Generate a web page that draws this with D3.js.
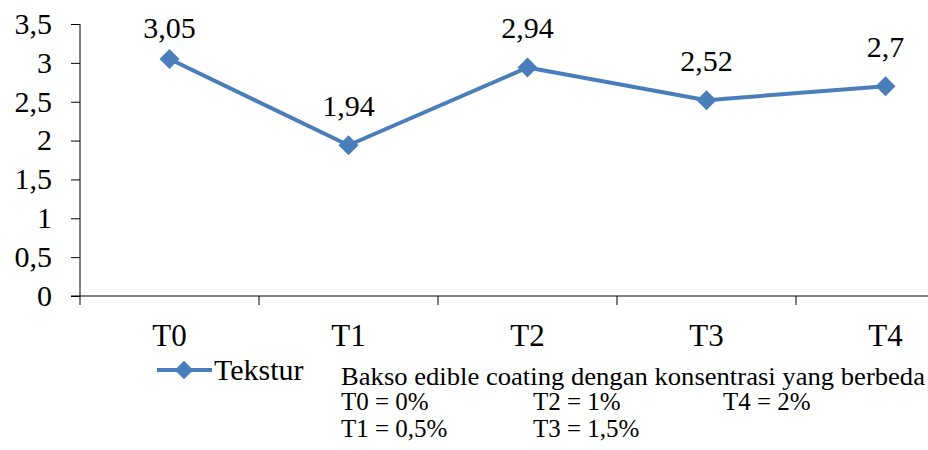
<!DOCTYPE html>
<html><head><meta charset="utf-8"><script src="https://cdn.jsdelivr.net/npm/d3@7"></script></head>
<body style="margin:0">
<svg id="chart" width="928" height="450"></svg>
<script>
// ---- data ----
const categories = ["T0", "T1", "T2", "T3", "T4"];
const tekstur = [3.05, 1.94, 2.94, 2.52, 2.7];
const valueLabels = ["3,05", "1,94", "2,94", "2,52", "2,7"];
const yTicks = [0, 0.5, 1, 1.5, 2, 2.5, 3, 3.5];
const yTickLabels = ["0", "0,5", "1", "1,5", "2", "2,5", "3", "3,5"];
const seriesName = "Tekstur";
const noteTitle = "Bakso edible coating dengan konsentrasi yang berbeda";
const noteRow1 = ["T0 = 0%", "T2 = 1%", "T4 = 2%"];
const noteRow2 = ["T1 = 0,5%", "T3 = 1,5%"];

// ---- layout ----
const svg = d3.select("#chart");
const color = "#4A7EBB";
const plotLeft = 80, bandW = 179, plotTop = 24, plotBottom = 296;

const x = d3.scaleBand().domain(categories).range([plotLeft, plotLeft + bandW * categories.length]);
const y = d3.scaleLinear().domain([0, 3.5]).range([plotBottom, plotTop]);
const cx = c => x(c) + x.bandwidth() / 2;

// y axis (ticks via d3 axis, labels as plain texts)
const yAxis = d3.axisLeft(y).tickValues(yTicks).tickSize(9).tickFormat("");
const gy = svg.append("g").attr("transform", `translate(${plotLeft},0)`).call(yAxis);
gy.select(".domain").remove();
gy.selectAll(".tick line").attr("stroke", "#000").attr("stroke-width", 1);
svg.selectAll("text.ylab").data(yTicks).join("text").attr("class", "ylab")
  .attr("x", plotLeft - 28).attr("y", d => y(d)).attr("dy", "0.33em")
  .attr("text-anchor", "end")
  .style("font-family", `"Liberation Serif"`).style("font-size", "30px")
  .text((d, i) => yTickLabels[i]);
svg.append("line")
  .attr("x1", plotLeft).attr("x2", plotLeft)
  .attr("y1", y(3.5)).attr("y2", plotBottom + 9)
  .attr("stroke", "#000").attr("stroke-width", 1);

// x axis
svg.append("line")
  .attr("x1", plotLeft - 9).attr("x2", 928)
  .attr("y1", plotBottom).attr("y2", plotBottom)
  .attr("stroke", "#000").attr("stroke-width", 1);
const boundaries = categories.map(c => x(c)).concat([x.range()[1]]);
svg.selectAll("line.xt").data(boundaries.slice(1)).join("line").attr("class", "xt")
  .attr("x1", d => d).attr("x2", d => d)
  .attr("y1", plotBottom).attr("y2", plotBottom + 9)
  .attr("stroke", "#000").attr("stroke-width", 1);
svg.selectAll("text.xlab").data(categories).join("text").attr("class", "xlab")
  .attr("x", d => cx(d)).attr("y", 346)
  .attr("text-anchor", "middle")
  .style("font-family", `"Liberation Serif"`).style("font-size", "31px")
  .text(d => d);

// line
const pts = categories.map((c, i) => ({ c, v: tekstur[i], label: valueLabels[i] }));
const line = d3.line().x(d => cx(d.c)).y(d => y(d.v));
svg.append("path")
  .datum(pts)
  .attr("d", line)
  .attr("fill", "none")
  .attr("stroke", color)
  .attr("stroke-width", 4)
  .attr("stroke-linejoin", "round");

const sym = d3.symbol().type(d3.symbolSquare).size(200);
svg.selectAll("path.mk").data(pts).join("path").attr("class", "mk")
  .attr("d", sym)
  .attr("transform", d => `translate(${cx(d.c)},${y(d.v)}) rotate(45)`)
  .attr("fill", color);

// data labels
svg.selectAll("text.vlab").data(pts).join("text").attr("class", "vlab")
  .attr("x", d => cx(d.c))
  .attr("y", d => Math.max(y(d.v) - 29.5, 38))
  .attr("text-anchor", "middle")
  .style("font-family", `"Liberation Serif"`).style("font-size", "30px")
  .text(d => d.label);

// legend
svg.append("line").attr("x1", 157).attr("x2", 212).attr("y1", 370).attr("y2", 370)
  .attr("stroke", color).attr("stroke-width", 4);
svg.append("path").attr("d", d3.symbol().type(d3.symbolSquare).size(170))
  .attr("transform", "translate(184,370) rotate(45)").attr("fill", color);
svg.append("text").attr("x", 214).attr("y", 380)
  .style("font-family", `"Liberation Serif"`).style("font-size", "30px")
  .text(seriesName);

// note text
svg.append("text").attr("x", 341).attr("y", 385)
  .style("font-family", `"Liberation Serif"`).style("font-size", "25px")
  .attr("textLength", 584).attr("lengthAdjust", "spacingAndGlyphs")
  .text(noteTitle);
const colX = [341, 533, 723];
svg.selectAll("text.n1").data(noteRow1).join("text").attr("class", "n1")
  .attr("x", (d, i) => colX[i]).attr("y", 410)
  .style("font-family", `"Liberation Serif"`).style("font-size", "25px")
  .text(d => d);
svg.selectAll("text.n2").data(noteRow2).join("text").attr("class", "n2")
  .attr("x", (d, i) => colX[i]).attr("y", 437)
  .style("font-family", `"Liberation Serif"`).style("font-size", "25px")
  .text(d => d);
</script>
</body>
</html>
